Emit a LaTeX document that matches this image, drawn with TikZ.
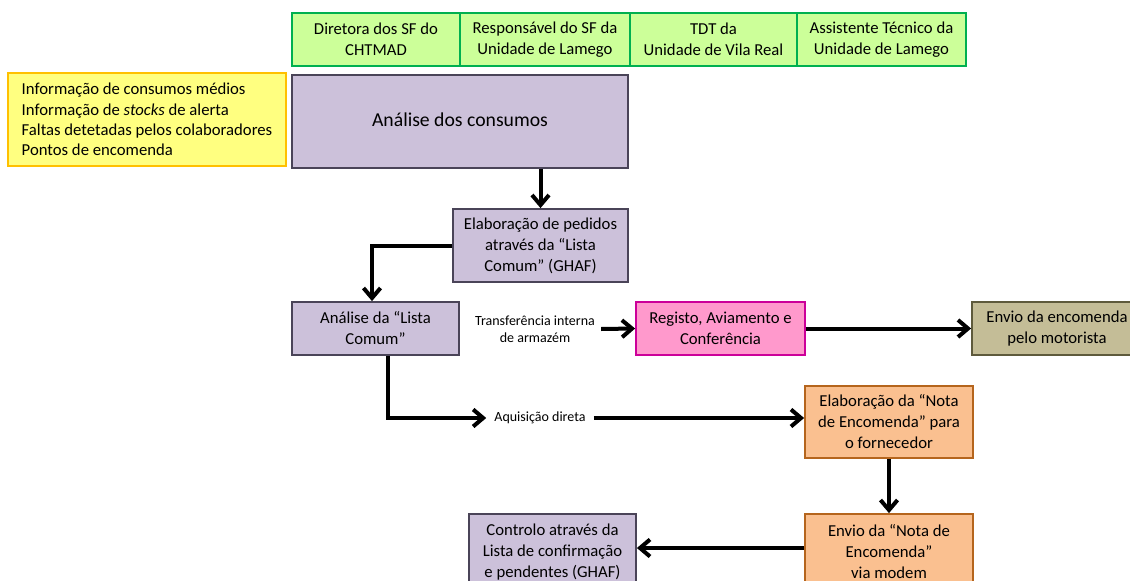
\documentclass[tikz,border=0pt]{standalone}
\usepackage{fontspec}
\setmainfont{Carlito}
\usetikzlibrary{arrows.meta}
\definecolor{purpfill}{HTML}{CCC1DA}
\definecolor{purpline}{HTML}{4A4458}
\definecolor{greenfill}{HTML}{CCFF99}
\definecolor{greenline}{HTML}{00B050}
\definecolor{yelfill}{HTML}{FFFF80}
\definecolor{yelline}{HTML}{FFC000}
\definecolor{pinkfill}{HTML}{FF99CC}
\definecolor{pinkline}{HTML}{CC0099}
\definecolor{olivefill}{HTML}{C4BD97}
\definecolor{oliveline}{HTML}{5E5A3C}
\definecolor{peachfill}{HTML}{FAC090}
\definecolor{peachline}{HTML}{B5651D}
\begin{document}
\begin{tikzpicture}[x=1pt,y=-1pt,
  box/.style={draw, line width=1.8pt, inner sep=0pt, align=center,
    font=\fontsize{16.7}{21}\selectfont},
  hdr/.style={box, draw=greenline, fill=greenfill, minimum width=168pt, minimum height=53pt},
  purp/.style={box, draw=purpline, fill=purpfill},
  peach/.style={box, draw=peachline, fill=peachfill},
  lbl/.style={inner sep=2pt, align=center, font=\fontsize{14}{17}\selectfont},
  arr/.style={line width=4pt, -{Straight Barb[length=10pt,width=17pt]}}
]
\useasboundingbox (0,0) rectangle (1130,581);
\fill[white] (0,0) rectangle (1130,581);

% header
\node[hdr] (h1) at (376,39.5) {Diretora dos SF do\\CHTMAD};
\node[hdr, minimum width=170pt] (h2) at (545,39.5) {Responsável do SF da\\Unidade de Lamego};
\node[hdr, minimum width=167pt] (h3) at (713.5,39.5) {TDT da\\Unidade de Vila Real};
\node[hdr, minimum width=169pt] (h4) at (881.5,39.5) {Assistente Técnico da\\Unidade de Lamego};

% yellow info box
\node[box, draw=yelline, fill=yelfill, minimum width=278pt, minimum height=93pt, align=left,
  font=\fontsize{16.7}{20.3}\selectfont] (info) at (147,119.5)
  {Informação de consumos médios\\Informação de \textit{stocks} de alerta\\Faltas detetadas pelos colaboradores\\Pontos de encomenda};

% main boxes
\node[purp, minimum width=336pt, minimum height=93pt, font=\fontsize{19.7}{24}\selectfont] (anal) at (460,121.5) {\raisebox{4pt}{Análise dos consumos}};
\node[purp, minimum width=175pt, minimum height=73pt] (elab) at (540.5,245.5) {Elaboração de pedidos\\através da “Lista\\Comum” (GHAF)};
\node[purp, minimum width=167pt, minimum height=53pt] (lista) at (375.5,328.5) {Análise da “Lista\\Comum”};
\node[box, draw=pinkline, fill=pinkfill, minimum width=169pt, minimum height=53pt] (reg) at (720.5,328.5) {Registo, Aviamento e\\Conferência};
\node[box, draw=oliveline, fill=olivefill, minimum width=170pt, minimum height=53pt] (envio) at (1057,328.5) {Envio da encomenda\\pelo motorista};
\node[peach, minimum width=168pt, minimum height=72pt] (nota) at (889,422) {Elaboração da “Nota\\de Encomenda” para\\o fornecedor};
\node[peach, minimum width=168pt, minimum height=76pt] (envnota) at (889,552) {Envio da “Nota de\\Encomenda”\\via modem};
\node[purp, minimum width=167pt, minimum height=76pt] (ctrl) at (552.5,552) {Controlo através da\\Lista de confirmação\\e pendentes (GHAF)};

% labels
\node[lbl] (transf) at (535,329) {Transferência interna\\de armazém};
\node[lbl, inner xsep=8pt] (aq) at (540,418) {Aquisição direta};

% connectors
\draw[arr] (anal.south -| elab.north) -- (elab.north);
\draw[arr] (elab.west) -| ([xshift=-3.5pt]lista.north);
\draw[arr] ([xshift=4pt]transf.east) -- (reg.west);
\draw[arr] (reg.east) -- (envio.west);
\draw[arr] ([xshift=12pt]lista.south) |- (aq.west);
\draw[arr] (aq.east) -- (aq.east -| nota.west);
\draw[arr] (nota.south) -- (envnota.north);
\draw[arr] (envnota.west |- 0,548) -- (ctrl.east |- 0,548);
\end{tikzpicture}
\end{document}
